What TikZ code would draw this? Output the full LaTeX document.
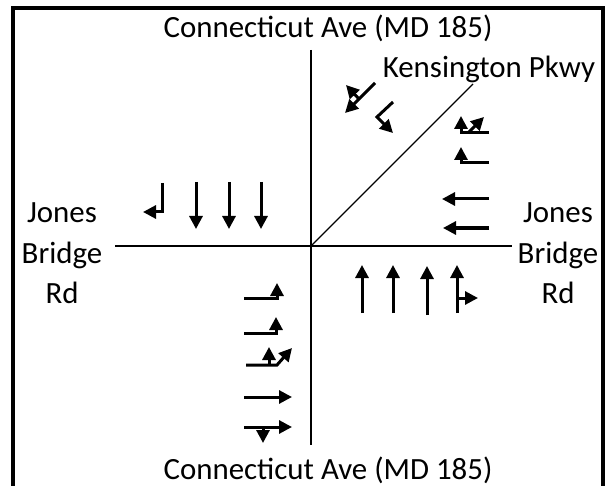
\documentclass[tikz,border=0pt]{standalone}
\usepackage{fontspec}
\setmainfont{Carlito}
\usetikzlibrary{arrows.meta}
\begin{document}
\begin{tikzpicture}[x=1bp,y=-1bp,
  lane/.style={line width=3bp,-{Triangle[length=13bp,width=13bp]}},
  road/.style={line width=1.2bp},
  lbl/.style={font=\fontsize{31}{37}\selectfont, inner sep=0pt, anchor=base}]
\useasboundingbox (0,0) rectangle (613,486);
% frame
\draw[line width=4bp] (13,492) -- (13,8) -- (603,8) -- (603,492);
% roads
\coordinate (c) at (311,246);
\coordinate (ntop) at (311,50);
\coordinate (sbot) at (311,445);
\coordinate (wend) at (115,246);
\coordinate (eend) at (512,246);
\coordinate (neend) at (473,84);
\draw[road] (ntop) -- (sbot);
\draw[road] (wend) -- (eend);
\draw[road] (c) -- (neend);
% labels
\node[lbl] (ntxt) at (328,38) {Connecticut Ave (MD 185)};
\node[lbl] (stxt) at (328,479) {Connecticut Ave (MD 185)};
\node[lbl] (ktxt) at (489,78) {Kensington Pkwy};
\node[lbl] (wj) at (62,223) {Jones};
\node[lbl] (wb) at (62,263) {Bridge};
\node[lbl] (wr) at (62,303) {Rd};
\node[lbl] (ej) at (558,223) {Jones};
\node[lbl] (eb) at (558,263) {Bridge};
\node[lbl] (er) at (558,303) {Rd};
% southbound
\draw[lane] (162,183) -- (162,212) -- (143,212);
\draw[lane] (196,182) -- (196,229);
\draw[lane] (229,182) -- (229,229);
\draw[lane] (261,182) -- (261,229);
% northbound
\draw[lane] (362,313) -- (362,265);
\draw[lane] (393,313) -- (393,265);
\draw[lane] (427,315) -- (427,266);
\draw[lane] (457,313) -- (457,265);
\draw[lane] (457,298) -- (478,298);
% westbound
\draw[lane] (489,133) -- (461,133) -- (461,116);
\draw[lane] (468,133) -- (484,117);
\draw[lane] (489,163) -- (461,163) -- (461,147);
\draw[lane] (489,199) -- (442,199);
\draw[lane] (489,228) -- (443,228);
% eastbound
\draw[lane] (244,298) -- (277,298) -- (277,283);
\draw[lane] (244,333) -- (276,333) -- (276,317);
\draw[lane] (246,365) -- (277,365) -- (292,348);
\draw[lane] (269,365) -- (269,347);
\draw[lane] (244,397) -- (292,397);
\draw[lane] (244,427) -- (292,427);
\draw[lane] (263,427) -- (263,443);
% Kensington Pkwy approach
\draw[lane] (375,83) -- (345,113);
\draw[lane] (359,99) -- (346,85);
\draw[lane] (393,102) -- (377,117) -- (393,133);
\end{tikzpicture}
\end{document}
